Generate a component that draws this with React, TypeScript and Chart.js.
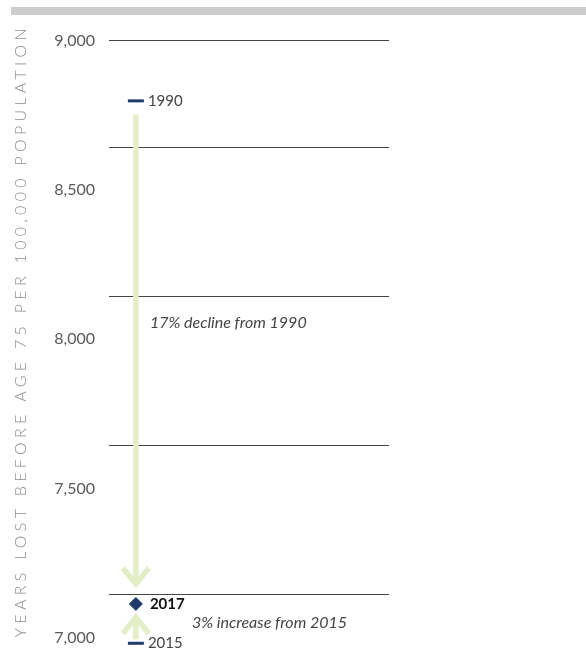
import React, { useEffect, useRef } from 'react';
import { Chart, registerables } from 'chart.js';

Chart.register(...registerables);

// ---- data ----
const years: string[] = ['1990', '2017', '2015'];
const values: number[] = [8655, 6969, 6837];
const yTickValues: number[] = [7000, 7500, 8000, 8500, 9000];
const yTitle = 'YEARS LOST BEFORE AGE 75 PER 100,000 POPULATION';
const annotationTexts: string[] = ['17% decline from 1990', '3% increase from 2015'];
// arrows: from point index -> to point index
const arrowFrom: number[] = [0, 2];
const arrowTo: number[] = [1, 1];

// ---- layout / style ----
const yMin = 6848;
const yMax = 8859;
const markerX = 0.096;
const annotationX: number[] = [0.146, 0.296];
const annotationY: number[] = [7912, 6904];
const NAVY = '#1f3a6b';
const GREEN = '#e3edc6';
const FONT = 'Lato, "Open Sans", sans-serif';

const decorPlugin = {
  id: 'decor',
  beforeDraw(chart: any) {
    const ctx = chart.ctx;
    ctx.save();
    ctx.fillStyle = '#cdcdcd';
    ctx.fillRect(11, 7, 575, 8);
    ctx.restore();
  },
  beforeDatasetsDraw(chart: any) {
    const ctx = chart.ctx;
    const pts = chart.getDatasetMeta(0).data;
    ctx.save();
    ctx.strokeStyle = GREEN;
    ctx.lineWidth = 5.5;
    ctx.lineCap = 'butt';
    ctx.lineJoin = 'miter';
    arrowFrom.forEach((fi, k) => {
      const a = pts[fi];
      const b = pts[arrowTo[k]];
      const dir = b.y > a.y ? 1 : -1;
      const x = a.x;
      const yStart = dir > 0 ? a.y + 14 : a.y - 4;
      const yTip = dir > 0 ? b.y - 20 : b.y + 13.5;
      ctx.beginPath();
      ctx.moveTo(x, yStart);
      ctx.lineTo(x, yTip);
      ctx.stroke();
      ctx.beginPath();
      ctx.moveTo(x - 13, yTip - dir * 16);
      ctx.lineTo(x, yTip);
      ctx.lineTo(x + 13, yTip - dir * 16);
      ctx.stroke();
    });
    ctx.restore();
  },
  afterDatasetsDraw(chart: any) {
    const ctx = chart.ctx;
    const pts = chart.getDatasetMeta(0).data;
    const xs = chart.scales.x;
    const ys = chart.scales.y;
    ctx.save();
    ctx.textBaseline = 'middle';
    ctx.textAlign = 'left';
    years.forEach((label, i) => {
      const el = pts[i];
      const bold = i === 1;
      ctx.font = `${bold ? 'bold ' : ''}15px ${FONT}`;
      ctx.fillStyle = bold ? '#111111' : '#444444';
      ctx.fillText(label, el.x + (bold ? 14 : 12), el.y);
    });
    ctx.font = `italic 16px ${FONT}`;
    ctx.fillStyle = '#444444';
    annotationTexts.forEach((t, i) => {
      ctx.fillText(t, xs.getPixelForValue(annotationX[i]), ys.getPixelForValue(annotationY[i]));
    });
    ctx.restore();

    // y axis title
    ctx.save();
    ctx.translate(21, 333);
    ctx.rotate(-Math.PI / 2);
    ctx.font = `300 16px ${FONT}`;
    ctx.fillStyle = '#8c8c8c';
    ctx.textAlign = 'left';
    ctx.textBaseline = 'middle';
    const w = ctx.measureText(yTitle).width;
    const target = 609;
    const sp = (target - w) / (yTitle.length - 1);
    try { (ctx as any).letterSpacing = `${sp}px`; } catch (e) {}
    ctx.fillText(yTitle, -target / 2, 0);
    ctx.restore();
  },
};

export default function App() {
  const canvasRef = useRef<HTMLCanvasElement | null>(null);

  useEffect(() => {
    if (!canvasRef.current) return;
    const chart = new Chart(canvasRef.current, {
      type: 'scatter',
      data: {
        labels: years,
        datasets: [
          {
            data: values.map((v) => ({ x: markerX, y: v })),
            pointStyle: ['line', 'rectRot', 'line'] as any,
            pointRadius: [8, 6.5, 8],
            pointHoverRadius: [8, 6.5, 8],
            pointBorderWidth: [3, 1, 3],
            pointBackgroundColor: NAVY,
            pointBorderColor: NAVY,
            showLine: false,
            clip: false,
          },
        ],
      },
      options: {
        animation: false,
        responsive: true,
        maintainAspectRatio: false,
        events: [],
        layout: { padding: { top: 40, right: 197, bottom: 0, left: 0 } },
        plugins: { legend: { display: false }, tooltip: { enabled: false } },
        scales: {
          x: { type: 'linear', display: false, min: 0, max: 1 },
          y: {
            type: 'linear',
            min: yMin,
            max: yMax,
            afterBuildTicks: (s: any) => {
              s.ticks = [...yTickValues, yMax].map((v) => ({ value: v }));
            },
            afterFit: (s: any) => {
              s.width = 109;
              s.paddingTop = 0;
              s.paddingBottom = 0;
            },
            grid: { color: '#444444', lineWidth: 1, drawTicks: false },
            border: { display: false },
            ticks: {
              autoSkip: false,
              padding: 14,
              labelOffset: 43,
              color: '#5a5a5a',
              font: { family: FONT, size: 16 },
              callback: (v: any) => (v === yMax ? '' : Number(v).toLocaleString('en-US')),
            },
          },
        },
      },
      plugins: [decorPlugin],
    });
    return () => chart.destroy();
  }, []);

  return (
    <div style={{ position: 'fixed', left: 0, top: 0, width: 586, height: 651, background: '#fff' }}>
      <canvas ref={canvasRef} />
    </div>
  );
}
